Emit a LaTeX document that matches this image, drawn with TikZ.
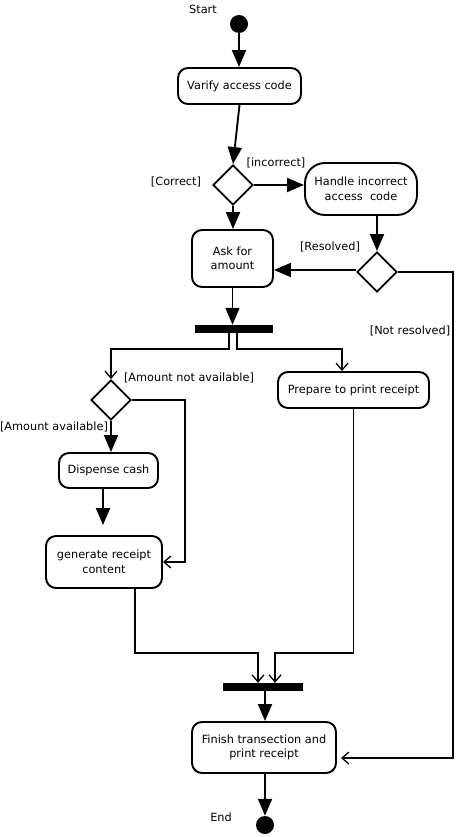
\documentclass[tikz,border=0pt]{standalone}
\usepackage{fontspec}
\setmainfont{DejaVu Sans}
\usetikzlibrary{shapes.geometric,arrows.meta,calc}
\begin{document}
\begin{tikzpicture}[x=1pt,y=-1pt,
  every node/.style={font=\fontsize{11.3}{14.5}\selectfont},
  act/.style={draw,line width=1.9pt,rounded corners=10pt,align=center,inner sep=0pt},
  dec/.style={draw,diamond,line width=1.9pt,minimum width=40pt,minimum height=40pt,inner sep=0pt},
  bar/.style={fill=black,draw=none,minimum width=78pt,minimum height=8pt,inner sep=0pt},
  dot/.style={circle,fill=black,minimum size=18pt,inner sep=0pt},
  lbl/.style={inner sep=0pt},
  flow/.style={line width=1.9pt,-{Triangle[length=17pt,width=14pt]}},
  open/.style={line width=1.9pt,-{Straight Barb[length=7pt,width=12pt,line width=1.3pt]}}]
\useasboundingbox (0,0) rectangle (456,837);
\fill[white] (0,0) rectangle (456,837);
% nodes
\node[dot] (start) at (239,24) {};
\node[lbl] (lstart) at (203,9) {Start};
\node[act,minimum width=123pt,minimum height=36pt] (vac) at (239.5,86) {Varify access code};
\node[dec] (d1) at (233,185) {};
\node[lbl] (lcorrect) at (176,182) {[Correct]};
\node[lbl] (lincorrect) at (276,163) {[incorrect]};
\node[act,rounded corners=20pt,minimum width=112pt,minimum height=52pt] (hic) at (361,189) {Handle incorrect\\access\ \ code};
\node[dec] (d2) at (377,272) {};
\node[lbl] (lresolved) at (330,247) {[Resolved]};
\node[lbl] (lnotres) at (410,331) {[Not resolved]};
\node[act,minimum width=81pt,minimum height=57pt] (ask) at (232.5,258.5) {Ask for\\amount};
\node[bar] (fork) at (234,329) {};
\node[dec] (d3) at (111,400) {};
\node[lbl] (lnotavail) at (189,378) {[Amount not available]};
\node[lbl] (lavail) at (54,427) {[Amount available]};
\node[act,minimum width=151pt,minimum height=36pt] (prep) at (353.5,390) {Prepare to print receipt};
\node[act,minimum width=99pt,minimum height=35pt] (disp) at (108.5,470.5) {Dispense cash};
\node[act,minimum width=116pt,minimum height=52pt] (gen) at (104,562) {generate receipt\\content};
\node[bar,minimum width=80pt] (join) at (263,687) {};
\node[act,minimum width=144pt,minimum height=51pt] (fin) at (264,747.5) {Finish transection and\\print receipt};
\node[dot] (endc) at (265,825) {};
\node[lbl] (lend) at (221,817) {End};
% connectors
\draw[flow] (start) -- (start |- vac.north);
\draw[flow] (vac.south) -- (d1.north);
\draw[flow] (d1.east) -- (d1.east -| hic.west);
\draw[flow] (d2.north |- hic.south) -- (d2.north);
\draw[flow] ([yshift=2pt]d2.west) -- ([yshift=2pt]d2.west -| ask.east);
\draw[flow] (d1.south) -- (d1.south |- ask.north);
\draw[flow] (ask.south) -- (ask.south |- fork.north);
\draw[open] ([xshift=-5pt]fork.south) -- ++(0,16) -| (d3.north);
\draw[open] ([xshift=3pt]fork.south) -- ++(0,16) -| ([xshift=-11.5pt]prep.north);
\draw[open] (d3.east) -- ++(53,0) |- (gen.east);
\draw[flow] (d3.south) -- (d3.south |- disp.north);
\draw[flow,shorten >=10pt] ([xshift=-5.5pt]disp.south) -- ([xshift=-1pt]gen.north);
\draw[open] ([xshift=31pt]gen.south) -- ++(0,64) -| ([xshift=-5pt]join.north);
\draw[open] (prep.south) -- ++(0,244) -| ([xshift=12pt]join.north);
\draw[flow] ([xshift=2pt]join.south) -- ([xshift=1pt]fin.north);
\draw[flow] (endc.north |- fin.south) -- (endc.north);
\draw[open,shorten >=4pt] (d2.east) -- ++(55,0) |- ([yshift=-10.5pt]fin.east);
\end{tikzpicture}
\end{document}
